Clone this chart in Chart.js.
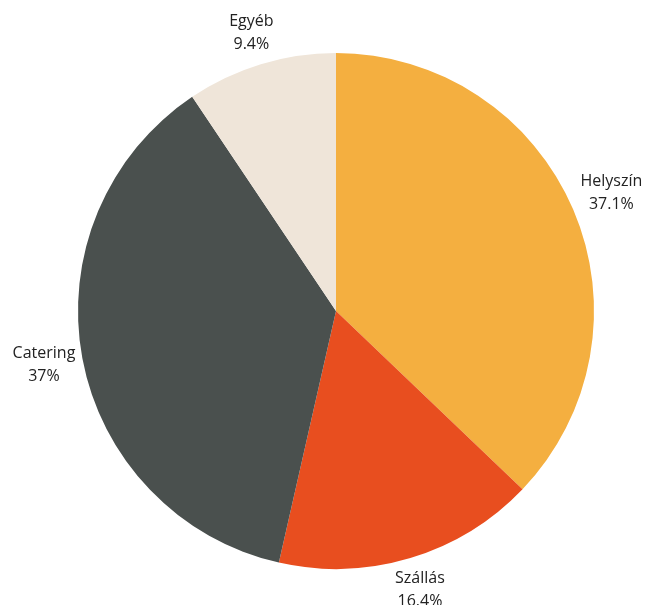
<!DOCTYPE html>
<html>
<head>
<meta charset="utf-8">
<script src="https://cdn.jsdelivr.net/npm/chart.js@4"></script>
<style>
  html, body { margin: 0; padding: 0; background: #fff; }
  #wrap { width: 646px; height: 605px; }
</style>
</head>
<body>
<div id="wrap"><canvas id="costChart"></canvas></div>
<script>
const categories = ['Helyszín', 'Szállás', 'Catering', 'Egyéb'];
const shares = [37.1, 16.4, 37, 9.4];
const sliceColors = ['#F4AF40', '#E84E1F', '#4A504E', '#EFE5D9'];

// labels sit just outside each slice: name on top, percentage below
const outsideLabels = {
    id: 'outsideLabels',
    afterDraw(chart) {
        const ctx = chart.ctx;
        const meta = chart.getDatasetMeta(0);
        ctx.save();
        ctx.font = '16px "Open Sans"';
        ctx.fillStyle = '#222222';
        ctx.textAlign = 'center';
        ctx.textBaseline = 'middle';
        const lineH = 23;
        meta.data.forEach((arc, i) => {
            const mid = (arc.startAngle + arc.endAngle) / 2;
            const cos = Math.cos(mid), sin = Math.sin(mid);
            const lines = [categories[i], shares[i] + '%'];
            const w = Math.max(...lines.map(t => ctx.measureText(t).width));
            const h = lineH * 2;
            const d = arc.outerRadius + 4 + Math.abs(cos) * w / 2 + Math.abs(sin) * h / 2;
            const cx = arc.x + cos * d;
            const cy = arc.y + sin * d;
            ctx.fillText(lines[0], cx, cy - lineH / 2);
            ctx.fillText(lines[1], cx, cy + lineH / 2);
        });
        ctx.restore();
    }
};

document.addEventListener('DOMContentLoaded', function() {
    const ctx = document.getElementById('costChart').getContext('2d');
    new Chart(ctx, {
        type: 'pie',
        data: {
            labels: categories,
            datasets: [{
                data: shares,
                backgroundColor: sliceColors,
                borderWidth: 0
            }]
        },
        options: {
            responsive: true,
            maintainAspectRatio: false,
            animation: false,
            layout: { padding: { left: 78, right: 52, top: 53, bottom: 36 } },
            plugins: {
                legend: { display: false },
                tooltip: { enabled: false }
            }
        },
        plugins: [outsideLabels]
    });
});
</script>
</body>
</html>
